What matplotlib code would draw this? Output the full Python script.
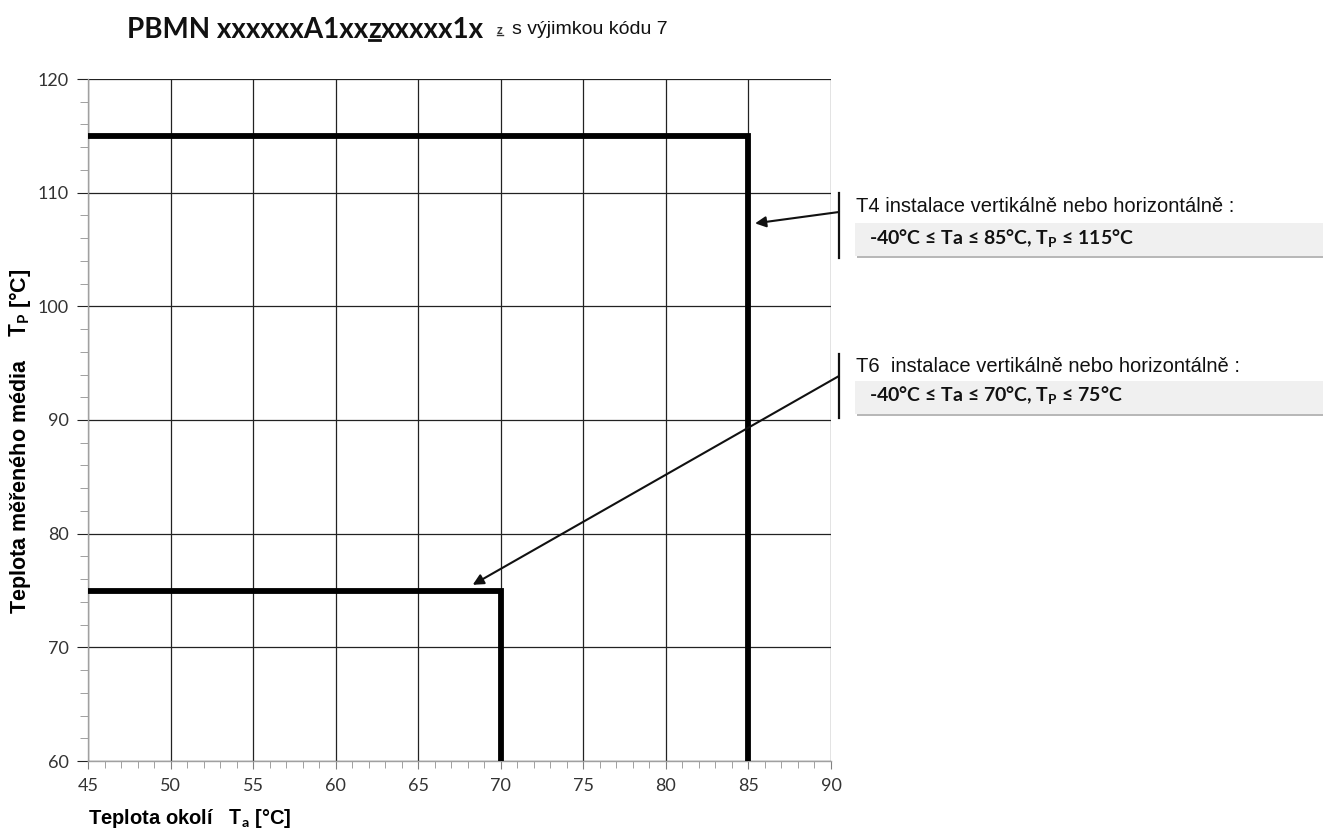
import numpy as np
import matplotlib.pyplot as plt
from matplotlib.patches import Rectangle
from matplotlib.lines import Line2D

W, H = 1323, 832

# temperature limits (ambient Ta vs. process Tp)
ta_t4 = [45, 85, 85]
tp_t4 = [115, 115, 60]
ta_t6 = [45, 70, 70]
tp_t6 = [75, 75, 60]

# points the callout arrows aim at
t4_target = (85.4, 107.3)
t6_target = (68.3, 75.5)

x_ticks = [45, 50, 55, 60, 65, 70, 75, 80, 85, 90]
y_ticks = [60, 70, 80, 90, 100, 110, 120]

t4_head = "T4 instalace vertikálně nebo horizontálně :"
t4_body = "-40°C ≤ Ta ≤ 85°C, T$_\\mathbf{P}$ ≤ 115°C"
t6_head = "T6  instalace vertikálně nebo horizontálně :"
t6_body = "-40°C ≤ Ta ≤ 70°C, T$_\\mathbf{P}$ ≤ 75°C"

plt.rcParams['mathtext.fontset'] = 'custom'
plt.rcParams['mathtext.rm'] = 'Lato'
plt.rcParams['mathtext.bf'] = 'Lato:bold'


def px(x, y):
  return x / W, 1 - y / H


fig = plt.figure(figsize=(W / 100, H / 100), dpi=100)
ax = fig.add_axes([88 / W, 1 - 761 / H, (831 - 88) / W, (761 - 79) / H])

ax.plot(ta_t4, tp_t4, color='black', lw=4.2, solid_joinstyle='miter', zorder=3)
ax.plot(ta_t6, tp_t6, color='black', lw=4.2, solid_joinstyle='miter', zorder=3)

ax.set_xlim(45, 90)
ax.set_ylim(60, 120)
ax.set_xticks(x_ticks)
ax.set_yticks(y_ticks)
ax.set_xticks(np.arange(45, 91, 1), minor=True)
ax.set_yticks(np.arange(60, 121, 2), minor=True)
ax.grid(True, which='major', color='#222222', lw=0.9)
ax.set_axisbelow(True)
for s in ['top', 'right']:
  ax.spines[s].set_visible(False)
for s in ['left', 'bottom']:
  ax.spines[s].set_color('#a0a0a0')
  ax.spines[s].set_linewidth(1.0)

ax.tick_params(axis='x', which='major', direction='out', length=6, color='#808080',
               pad=6, labelsize=13)
ax.tick_params(axis='x', which='minor', direction='out', length=5, color='#909090')
ax.tick_params(axis='y', which='major', direction='out', length=8, color='#222222',
               pad=6, labelsize=13)
ax.tick_params(axis='y', which='minor', direction='out', length=6, color='#909090')
for lab in ax.get_xticklabels() + ax.get_yticklabels():
  lab.set_fontfamily('Lato')
  lab.set_color('#333333')

# axis titles
fig.text(*px(20, 441), "Teplota měřeného média    $\\mathbf{T_P}$ [°C]", rotation=90,
         ha='center', va='center', fontsize=15.5, fontweight='bold',
         family=['Liberation Sans', 'DejaVu Sans'])
fig.text(*px(88, 818), "Teplota okolí   $\\mathbf{T_a}$ [°C]", ha='left', va='center',
         fontsize=14.5, fontweight='bold', family=['Liberation Sans', 'DejaVu Sans'])

# heading with underlined code letter
renderer = fig.canvas.get_renderer()
inv = fig.transFigure.inverted()
x0, y0 = px(127, 30)
parts = ["PBMN xxxxxxA1xx", "z", "xxxxx1x"]
cur = x0
for i, part in enumerate(parts):
  t = fig.text(cur, y0, part, ha='left', va='center', fontsize=20, fontweight='bold',
               family='Lato', color='#111111')
  bb = t.get_window_extent(renderer=renderer)
  (bx0, by0), (bx1, by1) = inv.transform([[bb.x0, bb.y0], [bb.x1, bb.y1]])
  if i == 1:
    fig.add_artist(Line2D([bx0 + 0.0005, bx1 - 0.0005], [by0 + 3 / H, by0 + 3 / H],
                          transform=fig.transFigure, color='#111111', lw=2))
  cur = bx1

title_end = cur
t = fig.text(title_end + 13 / W, y0, "z", ha='left', va='center', fontsize=9,
             fontweight='bold', family='Lato', color='#333333')
bb = t.get_window_extent(renderer=renderer)
(bx0, by0), (bx1, by1) = inv.transform([[bb.x0, bb.y0], [bb.x1, bb.y1]])
fig.add_artist(Line2D([bx0, bx1], [by0 + 1.5 / H, by0 + 1.5 / H], transform=fig.transFigure,
                      color='#333333', lw=1))
fig.text(title_end + 28 / W, y0 + 1 / H, "s výjimkou kódu 7", ha='left', va='center',
         fontsize=14, family='Liberation Sans', color='#111111')


def callout(y_top, y_bot, y_arrow, target, head, body, y_head, y_box, y_body):
  # grey shaded strip with a soft shadow
  fig.add_artist(Rectangle(px(857, y_box + 35), (W - 857) / W, 33 / H,
                           transform=fig.transFigure, facecolor='#b8b8b8', edgecolor='none'))
  fig.add_artist(Rectangle(px(855, y_box + 33), (W - 855) / W, 33 / H,
                           transform=fig.transFigure, facecolor='#f0f0f0', edgecolor='none'))
  # bracket bar
  fig.add_artist(Line2D([839 / W, 839 / W], [1 - y_top / H, 1 - y_bot / H],
                        transform=fig.transFigure, color='#111111', lw=1.6))
  ax.annotate("", xy=target, xycoords='data', xytext=px(839, y_arrow),
              textcoords='figure fraction',
              arrowprops=dict(arrowstyle='-|>', color='#111111', lw=1.5,
                              mutation_scale=16, shrinkA=0, shrinkB=0),
              annotation_clip=False)
  fig.text(*px(856, y_head), head, ha='left', va='center', fontsize=14.5,
           family='Liberation Sans', color='#111111')
  fig.text(*px(869, y_body), body, ha='left', va='center', fontsize=14,
           fontweight='bold', family=['Lato', 'DejaVu Sans'], color='#111111')


callout(193, 258, 212, t4_target, t4_head, t4_body, 207, 223, 239)
callout(354, 418, 376, t6_target, t6_head, t6_body, 366, 381, 396)

fig.savefig('out.png', dpi=100, facecolor='white')
